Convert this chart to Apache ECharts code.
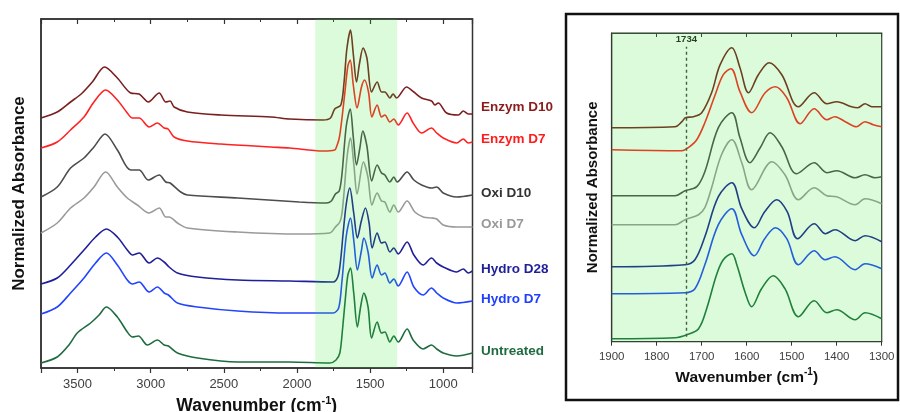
<!DOCTYPE html>
<html><head><meta charset="utf-8">
<script src="https://cdn.jsdelivr.net/npm/echarts@6/dist/echarts.min.js"></script>
<style>html,body{margin:0;padding:0;background:#fff}#c{width:900px;height:412px}</style>
</head><body><div id="c"></div>
<script>
// ---------- data (wavenumber cm-1, normalized absorbance with stacking offset) ----------
const seriesNames = ['Enzym D10','Enzym D7','Oxi D10','Oxi D7','Hydro D28','Hydro D7','Untreated'];
const lineColors  = ['#7a1f1f','#ff2222','#4d4d4d','#9a9a9a','#1f1f99','#2244ff','#1f6b40'];
const labelColors = ['#8a1c1c','#ff1c1c','#333333','#999999','#1f1f99','#1f3fff','#1f6b40'];
const bandRange = [1875, 1315];
const insetRange = [1900, 1300];
const markerWavenumber = 1734;
const mainTicks = [3500, 3000, 2500, 2000, 1500, 1000];
const insetTicks = [1900, 1800, 1700, 1600, 1500, 1400, 1300];

const enzymD10 = [[3750,2.50],[3639,2.56],[3548,2.66],[3468,2.75],[3399,2.86],[3315,3.01],[3228,2.90],[3137,2.75],[3079,2.74],[3016,2.66],[2942,2.75],[2897,2.66],[2867,2.67],[2840,2.61],[2749,2.56],[2521,2.53],[2178,2.51],[2050,2.49],[1822,2.48],[1771,2.50],[1742,2.59],[1700,2.63],[1678,2.86],[1659,3.19],[1634,3.38],[1615,3.14],[1593,2.86],[1572,3.05],[1548,3.20],[1522,3.10],[1490,2.76],[1452,2.86],[1422,2.76],[1399,2.76],[1365,2.70],[1343,2.74],[1319,2.70],[1251,2.81],[1201,2.76],[1148,2.70],[1080,2.67],[1057,2.63],[1034,2.65],[977,2.55],[897,2.53],[863,2.57],[829,2.54],[800,2.54]];
const enzymD7 = [[3750,2.20],[3639,2.26],[3548,2.38],[3456,2.51],[3388,2.66],[3308,2.78],[3228,2.68],[3160,2.55],[3125,2.50],[3079,2.50],[3011,2.41],[2954,2.45],[2908,2.40],[2881,2.39],[2840,2.31],[2749,2.27],[2521,2.24],[2178,2.21],[2050,2.20],[1822,2.17],[1742,2.18],[1730,2.21],[1711,2.30],[1693,2.49],[1670,2.79],[1652,3.02],[1636,3.08],[1615,2.83],[1589,2.60],[1559,2.81],[1538,2.88],[1511,2.76],[1488,2.51],[1452,2.63],[1422,2.51],[1399,2.53],[1365,2.46],[1338,2.49],[1308,2.43],[1247,2.55],[1206,2.45],[1148,2.35],[1080,2.40],[1045,2.35],[1000,2.30],[908,2.25],[863,2.29],[829,2.25],[800,2.26]];
const oxiD10 = [[3750,1.71],[3639,1.81],[3548,2.00],[3456,2.10],[3388,2.21],[3312,2.34],[3228,2.18],[3137,1.98],[3079,1.98],[3016,1.88],[2942,1.93],[2897,1.86],[2867,1.85],[2795,1.76],[2749,1.73],[2406,1.70],[1984,1.66],[1799,1.65],[1765,1.67],[1737,1.74],[1711,1.77],[1693,1.93],[1663,2.42],[1636,2.59],[1615,2.31],[1593,2.03],[1570,2.20],[1550,2.37],[1522,2.22],[1489,1.87],[1452,2.03],[1422,1.95],[1399,1.93],[1365,1.86],[1338,1.91],[1315,1.86],[1247,1.96],[1201,1.88],[1148,1.83],[1080,1.80],[1045,1.81],[1000,1.75],[908,1.71],[800,1.73]];
const oxiD7 = [[3750,1.35],[3639,1.45],[3548,1.60],[3456,1.70],[3388,1.81],[3308,1.96],[3228,1.81],[3160,1.70],[3091,1.63],[3011,1.55],[2942,1.60],[2897,1.51],[2874,1.51],[2817,1.45],[2749,1.40],[2406,1.36],[1984,1.34],[1776,1.35],[1737,1.41],[1707,1.46],[1693,1.54],[1678,1.76],[1656,2.13],[1634,2.30],[1611,2.03],[1589,1.74],[1546,2.06],[1515,1.91],[1488,1.63],[1452,1.75],[1422,1.67],[1399,1.66],[1365,1.56],[1338,1.63],[1308,1.56],[1247,1.67],[1194,1.56],[1137,1.51],[1080,1.50],[1045,1.49],[1000,1.43],[908,1.41],[800,1.41]];
const hydroD28 = [[3750,0.84],[3639,0.90],[3548,1.03],[3456,1.18],[3377,1.31],[3303,1.39],[3228,1.31],[3160,1.18],[3125,1.13],[3079,1.15],[3011,1.05],[2954,1.10],[2908,1.06],[2874,1.01],[2817,0.95],[2680,0.91],[2406,0.88],[2050,0.87],[1753,0.86],[1719,0.92],[1700,1.10],[1685,1.34],[1663,1.64],[1639,1.80],[1612,1.55],[1587,1.30],[1560,1.47],[1532,1.60],[1507,1.45],[1486,1.20],[1452,1.35],[1422,1.25],[1399,1.26],[1365,1.16],[1338,1.20],[1308,1.14],[1247,1.26],[1201,1.13],[1137,1.03],[1080,1.10],[1045,1.05],[1000,1.01],[908,0.96],[863,0.99],[829,0.95],[800,0.97]];
const hydroD7 = [[3750,0.54],[3639,0.61],[3548,0.75],[3456,0.90],[3377,1.05],[3303,1.15],[3228,1.03],[3160,0.88],[3125,0.84],[3079,0.86],[3011,0.76],[2954,0.81],[2908,0.75],[2879,0.73],[2817,0.65],[2680,0.61],[2406,0.57],[2050,0.55],[1753,0.55],[1715,0.60],[1693,0.86],[1663,1.32],[1634,1.50],[1612,1.28],[1587,0.98],[1560,1.17],[1543,1.30],[1514,1.16],[1486,0.90],[1452,1.03],[1422,0.93],[1399,0.95],[1365,0.85],[1338,0.89],[1308,0.82],[1247,0.96],[1201,0.81],[1137,0.73],[1080,0.80],[1045,0.75],[1000,0.70],[908,0.65],[800,0.67]];
const untreated = [[3750,0.05],[3639,0.11],[3559,0.23],[3502,0.35],[3411,0.45],[3353,0.53],[3303,0.61],[3228,0.51],[3160,0.36],[3125,0.31],[3084,0.32],[3023,0.23],[2954,0.28],[2908,0.23],[2879,0.22],[2817,0.15],[2680,0.10],[2406,0.06],[2050,0.06],[1776,0.05],[1733,0.08],[1707,0.15],[1689,0.38],[1667,0.73],[1652,0.93],[1634,1.00],[1612,0.75],[1587,0.41],[1565,0.61],[1543,0.75],[1514,0.61],[1490,0.30],[1452,0.46],[1422,0.35],[1399,0.36],[1365,0.26],[1338,0.32],[1308,0.26],[1247,0.39],[1206,0.28],[1137,0.19],[1080,0.23],[1045,0.19],[1000,0.15],[908,0.12],[800,0.15]];

// inset (1900-1300 cm-1)
const insetEnzymD10 = [[1900,2.14],[1759,2.15],[1744,2.20],[1736,2.24],[1718,2.25],[1700,2.29],[1678,2.49],[1659,2.77],[1633,2.94],[1615,2.74],[1596,2.49],[1574,2.67],[1550,2.79],[1522,2.67],[1485,2.35],[1450,2.49],[1422,2.38],[1400,2.40],[1367,2.35],[1353,2.34],[1337,2.38],[1322,2.35],[1300,2.35]];
const insetEnzymD7 = [[1900,1.92],[1744,1.91],[1730,1.94],[1711,2.02],[1693,2.19],[1670,2.47],[1652,2.67],[1635,2.73],[1615,2.50],[1589,2.29],[1559,2.49],[1536,2.55],[1511,2.44],[1481,2.18],[1450,2.33],[1422,2.22],[1404,2.25],[1381,2.20],[1356,2.15],[1337,2.20],[1319,2.17],[1300,2.15]];
const insetOxiD10 = [[1900,1.46],[1759,1.46],[1737,1.51],[1711,1.55],[1693,1.70],[1663,2.14],[1633,2.29],[1615,2.04],[1593,1.79],[1570,1.94],[1548,2.09],[1522,1.95],[1489,1.68],[1450,1.79],[1422,1.69],[1400,1.71],[1359,1.64],[1337,1.67],[1315,1.64],[1300,1.65]];
const insetOxiD7 = [[1900,1.17],[1759,1.17],[1737,1.22],[1707,1.27],[1693,1.34],[1678,1.54],[1656,1.87],[1633,2.02],[1611,1.79],[1589,1.52],[1544,1.80],[1515,1.67],[1485,1.42],[1450,1.54],[1422,1.46],[1400,1.45],[1359,1.37],[1337,1.43],[1300,1.38]];
const insetHydroD28 = [[1900,0.75],[1737,0.77],[1715,0.82],[1693,1.05],[1663,1.45],[1633,1.59],[1611,1.33],[1583,1.14],[1560,1.30],[1533,1.42],[1510,1.30],[1487,1.03],[1450,1.18],[1425,1.08],[1404,1.12],[1359,1.01],[1337,1.06],[1300,1.00]];
const insetHydroD7 = [[1900,0.48],[1737,0.49],[1715,0.53],[1693,0.77],[1663,1.17],[1633,1.33],[1611,1.07],[1583,0.86],[1560,1.03],[1536,1.14],[1511,1.03],[1485,0.77],[1450,0.91],[1426,0.82],[1404,0.85],[1359,0.72],[1337,0.78],[1300,0.73]];
const insetUntreated = [[1900,0.03],[1759,0.04],[1733,0.07],[1707,0.13],[1689,0.33],[1667,0.67],[1652,0.82],[1633,0.88],[1622,0.77],[1604,0.50],[1589,0.35],[1567,0.53],[1541,0.66],[1515,0.53],[1485,0.25],[1450,0.41],[1422,0.29],[1400,0.32],[1359,0.22],[1337,0.29],[1300,0.23]];

const mainData = [enzymD10, enzymD7, oxiD10, oxiD7, hydroD28, hydroD7, untreated];
const insetData = [insetEnzymD10, insetEnzymD7, insetOxiD10, insetOxiD7, insetHydroD28, insetHydroD7, insetUntreated];

// ---------- chart ----------
const FONT = 'Arial, "Liberation Sans", sans-serif';
const chart = echarts.init(document.getElementById('c'), null, {renderer: 'canvas'});
const axisCol = '#333';
const overlayCol = 'rgba(40,230,40,0.17)';

const xName = (size, sup) => ({
  name: '{b|Wavenumber (cm}{s|-1}{b|)}',
  nameLocation: 'middle',
  nameTextStyle: {rich: {
    b: {fontSize: size, fontWeight: 'bold', fontFamily: FONT, color: '#111', lineHeight: size + 4, verticalAlign: 'middle'},
    s: {fontSize: sup, fontWeight: 'bold', fontFamily: FONT, color: '#111', lineHeight: sup + 1, verticalAlign: 'top'}
  }}
});

const labelY = [107, 139, 193.5, 224.5, 269.5, 299.5, 351];

// semi-transparent band drawn above the traces, positioned through the axis scales
const bandRender = (params, api) => {
  const cs = params.coordSys;
  const a = api.coord([api.value(0), 0])[0];
  const b = api.coord([api.value(1), 0])[0];
  return {type: 'rect', silent: true,
    shape: {x: Math.min(a, b), y: cs.y, width: Math.abs(b - a), height: cs.height},
    style: {fill: overlayCol}};
};

const option = {
  animation: false,
  backgroundColor: '#fff',
  grid: [
    {left: 41, right: 427.5, top: 19, bottom: 44, outerBoundsMode: 'none', containLabel: false, show: true, borderColor: axisCol, borderWidth: 1.5, backgroundColor: 'transparent'},
    {left: 611.7, right: 18.3, top: 33, bottom: 70.3, outerBoundsMode: 'none', containLabel: false, show: true, borderColor: axisCol, borderWidth: 1.2, backgroundColor: 'transparent'}
  ],
  xAxis: [
    Object.assign({
      type: 'value', gridIndex: 0, inverse: true, min: 800, max: 3750, splitNumber: 6, nameGap: 22,
      axisLine: {show: true, lineStyle: {color: axisCol, width: 1.5}},
      axisTick: {show: true, inside: false, length: 5, lineStyle: {color: axisCol, width: 1.2}},
      minorTick: {show: true, splitNumber: 2, length: 3, lineStyle: {color: axisCol, width: 1}},
      axisLabel: {margin: 10, fontSize: 13, color: '#404040', fontFamily: FONT, showMinLabel: false, showMaxLabel: false,
        formatter: v => mainTicks.includes(v) ? String(v) : ''},
      splitLine: {show: false}
    }, xName(17.5, 11)),
    {
      type: 'value', gridIndex: 0, position: 'top', inverse: true, min: 800, max: 3750, splitNumber: 6,
      axisLine: {show: true, lineStyle: {color: axisCol, width: 1.5}},
      axisTick: {show: true, inside: true, length: 5, lineStyle: {color: axisCol, width: 1.2}},
      minorTick: {show: true, splitNumber: 2, length: 3, lineStyle: {color: axisCol, width: 1}},
      axisLabel: {show: false}, splitLine: {show: false}
    },
    Object.assign({
      type: 'value', gridIndex: 1, inverse: true, min: 1300, max: 1900, interval: 100, nameGap: 24,
      axisLine: {show: true, lineStyle: {color: axisCol, width: 1.2}},
      axisTick: {show: true, inside: false, length: 4, lineStyle: {color: axisCol, width: 1}},
      axisLabel: {margin: 9, fontSize: 11.5, color: '#404040', fontFamily: FONT,
        formatter: v => insetTicks.includes(v) ? String(v) : ''},
      splitLine: {show: false}
    }, xName(15.5, 10)),
    {
      type: 'value', gridIndex: 1, position: 'top', inverse: true, min: 1300, max: 1900, interval: 100,
      axisLine: {show: true, lineStyle: {color: axisCol, width: 1.2}},
      axisTick: {show: true, inside: true, length: 4, lineStyle: {color: axisCol, width: 1}},
      axisLabel: {show: false}, splitLine: {show: false}
    }
  ],
  yAxis: [
    {type: 'value', gridIndex: 0, min: 0, max: 3.49,
      name: 'Normalized Absorbance', nameLocation: 'middle', nameGap: 13,
      nameTextStyle: {fontSize: 17, fontWeight: 'bold', fontFamily: FONT, color: '#111'},
      axisLine: {show: true, lineStyle: {color: axisCol, width: 1.5}}, axisTick: {show: false},
      axisLabel: {show: false}, splitLine: {show: false}},
    {type: 'value', gridIndex: 1, min: 0, max: 3.087,
      name: 'Normalized Absorbance', nameLocation: 'middle', nameGap: 11,
      nameTextStyle: {fontSize: 15, fontWeight: 'bold', fontFamily: FONT, color: '#111'},
      axisLine: {show: true, lineStyle: {color: axisCol, width: 1.2}}, axisTick: {show: false},
      axisLabel: {show: false}, splitLine: {show: false}}
  ],
  series: [],
  graphic: []
};

mainData.forEach((d, i) => option.series.push({
  name: seriesNames[i], type: 'line', xAxisIndex: 0, yAxisIndex: 0, data: d,
  smooth: 0.3, showSymbol: false, symbol: 'none', z: 3,
  lineStyle: {color: lineColors[i], width: 1.6}
}));
insetData.forEach((d, i) => option.series.push({
  name: seriesNames[i] + ' (inset)', type: 'line', xAxisIndex: 2, yAxisIndex: 1, data: d,
  smooth: 0.35, showSymbol: false, symbol: 'none', z: 3,
  lineStyle: {color: lineColors[i], width: 1.6}
}));
// marker line 1734
option.series.push({
  type: 'line', xAxisIndex: 2, yAxisIndex: 1, data: [], z: 4, silent: true,
  markLine: {symbol: 'none', silent: true, animation: false,
    lineStyle: {color: '#444', type: [3, 3], width: 1.4},
    label: {show: true, position: 'end', formatter: String(markerWavenumber), fontSize: 9.5, fontWeight: 'bold', fontFamily: FONT, color: '#222', distance: 2},
    data: [[{coord: [markerWavenumber, 0.05]}, {coord: [markerWavenumber, 2.95]}]]}
});
// green overlays (drawn over the traces, semi-transparent)
option.series.push({
  type: 'custom', xAxisIndex: 0, yAxisIndex: 0, z: 20, silent: true, clip: true,
  data: [[bandRange[0], bandRange[1]]], encode: {x: [0, 1]},
  renderItem: bandRender
});
option.series.push({
  type: 'custom', xAxisIndex: 2, yAxisIndex: 1, z: 20, silent: true, clip: true,
  data: [[insetRange[0], insetRange[1]]], encode: {x: [0, 1]},
  renderItem: bandRender
});

seriesNames.forEach((n, i) => option.graphic.push({
  type: 'text', x: 481, y: labelY[i], silent: true,
  style: {text: n, fill: labelColors[i], font: 'bold 13.5px ' + FONT, verticalAlign: 'middle', align: 'left'}
}));
option.graphic.push({
  type: 'rect', silent: true, z: 100,
  shape: {x: 566, y: 14, width: 332, height: 386},
  style: {fill: 'none', stroke: '#111', lineWidth: 2.5}
});

chart.setOption(option);
</script></body></html>
